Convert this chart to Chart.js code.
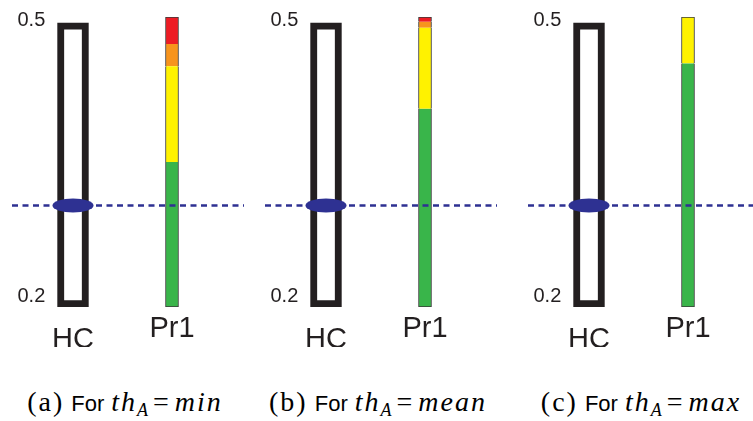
<!DOCTYPE html>
<html><head><meta charset="utf-8">
<script src="https://cdn.jsdelivr.net/npm/chart.js@4.4.1/dist/chart.umd.min.js"></script>
<style>
html,body{margin:0;padding:0;background:#fff;width:753px;height:421px;overflow:hidden;position:relative}
.panel{position:absolute;top:0;width:232px;height:421px}
.chartbox{position:absolute;left:0;top:0;width:232px;height:347px}
.cap{position:absolute;left:0;top:388px;width:226px;text-align:center;white-space:nowrap;color:#000;font-family:"Liberation Serif","DejaVu Serif",serif;font-size:28px;line-height:27px}
.cap .tag{letter-spacing:2px}
.cap .sf{font-family:"Liberation Sans",Arial,sans-serif;font-size:22px}
.cap i{font-family:"Liberation Serif","DejaVu Serif",serif;letter-spacing:2px}
.cap .eq{margin:0 6px 0 5px}
.cap sub{font-size:18px;font-style:italic;vertical-align:-5px;line-height:0}
</style></head><body>
<script>
// ---- data ----
const categories = ['HC', 'Pr1'];
const panelTags = ['(a)', '(b)', '(c)'];
const thNames = ['min', 'mean', 'max'];
const yTicks = [0.2, 0.5];
const hcRange = [0.2, 0.494];
const thA = [0.305, 0.305, 0.305];
const greenTop = [0.350, 0.405, 0.452];
const yellowTop = [0.449, 0.489, 0.500];
const orangeTop = [0.472, 0.495, 0.500];
const redTop = [0.500, 0.500, 0.500];

// ---- styles / layout ----
const segColors = ['#39b54a', '#fff200', '#f7941d', '#ed1c24'];
const panelLeft = [12, 265, 528];
const yMin = 0.2, yMax = 0.5;
const blue = '#2e3192';

const ell = document.createElement('canvas');
ell.width = 42; ell.height = 15;
{ const c = ell.getContext('2d'); c.fillStyle = blue; c.beginPath(); c.ellipse(21, 7.5, 20.5, 7, 0, 0, Math.PI * 2); c.fill(); }

const thLine = {
  id: 'thLine',
  beforeDatasetDraw(chart, args, opts) {
    const ds = chart.data.datasets[args.index];
    if (!ds.isMarker) return;
    const y = chart.scales.y.getPixelForValue(opts.value);
    const ctx = chart.ctx;
    ctx.save();
    ctx.strokeStyle = blue;
    ctx.lineWidth = 2.5;
    ctx.setLineDash([6, 4.5]);
    ctx.beginPath();
    ctx.moveTo(0, y);
    ctx.lineTo(chart.width, y);
    ctx.stroke();
    ctx.restore();
  }
};

for (let p = 0; p < 3; p++) {
  const panel = document.createElement('div');
  panel.className = 'panel';
  panel.style.left = panelLeft[p] + 'px';
  const box = document.createElement('div');
  box.className = 'chartbox';
  const cv = document.createElement('canvas');
  box.appendChild(cv);
  panel.appendChild(box);
  const cap = document.createElement('div');
  cap.className = 'cap';
  cap.innerHTML = '<span class="tag">' + panelTags[p] + '</span> <span class="sf">For</span> <i>th</i><sub>A</sub><span class="eq">=</span><i>' + thNames[p] + '</i>';
  panel.appendChild(cap);
  document.body.appendChild(panel);

  const bounds = [yMin, greenTop[p], yellowTop[p], orangeTop[p], redTop[p]];
  const segDatasets = segColors.map((col, k) => {
    const lo = bounds[k], hi = bounds[k + 1];
    return {
      type: 'bar',
      data: [null, hi > lo ? [lo, hi] : null],
      backgroundColor: col,
      borderColor: '#3a3a3a',
      borderWidth: (ctx) => {
        const r = ctx.raw;
        if (!r) return 0;
        return { left: 1, right: 1, top: r[1] >= yMax ? 1 : 0, bottom: r[0] <= yMin ? 1 : 0 };
      },
      borderSkipped: false,
      barThickness: 13
    };
  });

  new Chart(cv, {
    type: 'bar',
    data: {
      labels: categories,
      datasets: [
        {
          type: 'line', isMarker: true, data: [thA[p], null], order: -1,
          showLine: false, pointStyle: ell, pointRadius: 5, pointHoverRadius: 5
        },
        {
          type: 'bar', data: [hcRange, null], backgroundColor: '#ffffff',
          borderColor: '#231f20', borderWidth: 7, borderSkipped: false, barThickness: 31
        },
        ...segDatasets
      ]
    },
    options: {
      responsive: true, maintainAspectRatio: false, animation: false,
      layout: { padding: { left: 11.5, right: 22.5, top: 17, bottom: 0 } },
      plugins: { legend: { display: false }, tooltip: { enabled: false }, thLine: { value: thA[p] } },
      scales: {
        x: {
          type: 'category', stacked: true, offset: true,
          grid: { display: false, drawTicks: false }, border: { display: false },
          afterFit(s) { s.height = 40; },
          ticks: {
            padding: 16, maxRotation: 0, autoSkip: false, color: '#231f20',
            font: { family: '"Liberation Sans", Arial, sans-serif', size: 29, lineHeight: '11.2px' },
            callback(v, i) { const t = categories[i]; return t === 'HC' ? ['', t] : t; }
          }
        },
        y: {
          type: 'linear', min: yMin, max: yMax, stacked: false,
          grid: { display: false, drawTicks: false }, border: { display: false },
          afterFit(s) { s.width = 0; },
          afterBuildTicks(s) { s.ticks = yTicks.map(v => ({ value: v })); },
          ticks: {
            mirror: true, padding: -6, labelOffset: -4, color: '#231f20',
            font: { family: '"Liberation Sans", Arial, sans-serif', size: 20, lineHeight: '14px' },
            callback(v) { const t = v.toFixed(1); return v >= yMax ? ['', t] : [t, '']; }
          }
        }
      }
    },
    plugins: [thLine]
  });
}
</script>
</body></html>
